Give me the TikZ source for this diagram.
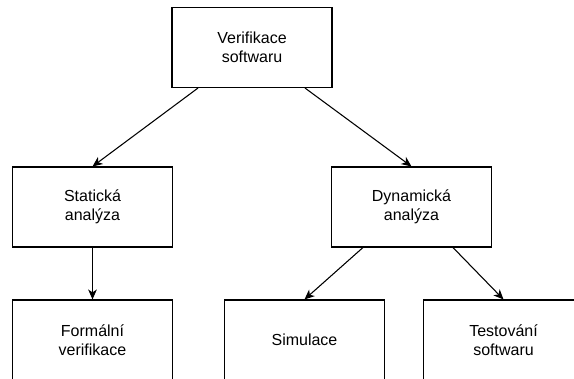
\documentclass[tikz,border=0pt]{standalone}
\usepackage{fontspec}
\setmainfont{Liberation Sans}
\usetikzlibrary{arrows.meta}

\begin{document}
\begin{tikzpicture}[x=0.75pt,y=-0.75pt,line width=0.8pt,
    box/.style={draw,minimum width=120pt,minimum height=60pt,align=center,
      font=\fontsize{12}{14}\selectfont},
    arr/.style={-{Stealth[length=7.5pt,width=6.5pt,inset=2.2pt]}}]
      \useasboundingbox (0,0) rectangle (574,378);
      \clip (0,0) rectangle (574,378);

      \node[box] (verif) at (252,47.5) {Verifikace\\softwaru};
      \node[box] (stat) at (92.5,207) {Statická\\analýza};
      \node[box] (dyn) at (411.5,207) {Dynamická\\analýza};
      \node[box] (formal) at (92.5,340) {Formální\\verifikace};
      \node[box] (sim) at (304.5,340) {Simulace};
      \node[box] (test) at (503.5,340) {Testování\\softwaru};

      \draw[arr] ([xshift=-40.5pt]verif.south) -- (stat.north);
      \draw[arr] ([xshift=39.75pt]verif.south) -- (dyn.north);
      \draw[arr] (stat.south) -- (formal.north);
      \draw[arr] ([xshift=-36.4pt]dyn.south) -- (sim.north);
      \draw[arr] ([xshift=31.1pt]dyn.south) -- (test.north);
    \end{tikzpicture}
\end{document}
